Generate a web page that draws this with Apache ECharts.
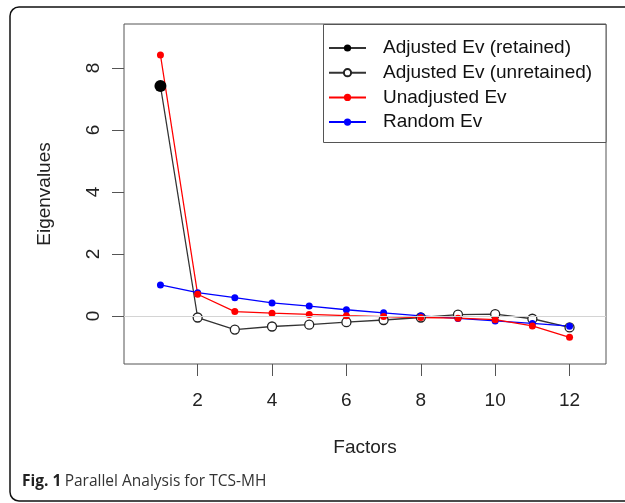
<!DOCTYPE html>
<html>
<head>
<meta charset="utf-8">
<script src="https://cdn.jsdelivr.net/npm/echarts@6/dist/echarts.min.js"></script>
<style>
  html, body { margin: 0; padding: 0; background: #fff; }
  #chart { width: 625px; height: 503px; }
</style>
</head>
<body>
<div id="chart"></div>
<script>
// factors on the x axis
const factors = [1, 2, 3, 4, 5, 6, 7, 8, 9, 10, 11, 12];
// eigenvalues
const adjustedEv = [7.42, -0.05, -0.44, -0.34, -0.28, -0.20, -0.13, -0.05, 0.04, 0.06, -0.09, -0.37];
const retainedCount = 1;
const unadjustedEv = [8.42, 0.70, 0.14, 0.09, 0.05, 0.01, -0.02, -0.05, -0.07, -0.12, -0.32, -0.69];
const randomEv = [1.00, 0.75, 0.59, 0.42, 0.32, 0.20, 0.10, 0.00, -0.08, -0.16, -0.24, -0.33];
const xTicks = [2, 4, 6, 8, 10, 12];
const yTicks = [0, 2, 4, 6, 8];
const legendNames = ['Adjusted Ev (retained)', 'Adjusted Ev (unretained)', 'Unadjusted Ev', 'Random Ev'];

const chart = echarts.init(document.getElementById('chart'), null, { renderer: 'canvas' });

const pairs = (ys) => factors.map((f, i) => [f, ys[i]]);
const retainedData = pairs(adjustedEv).slice(0, retainedCount);
const unretainedData = pairs(adjustedEv).map((p, i) =>
    i < retainedCount ? { value: p, symbol: 'none' } : p);

const axisFont = 'Liberation Sans, Arial, sans-serif';
const xMin = 0.02, xMax = 12.98;
const yMin = -1.55, yMax = 9.42;
const plotBox = { left: 124, top: 24, width: 482, height: 340 };

const option = {
    backgroundColor: '#fff',
    animation: false,
    grid: [
        Object.assign({ show: true, borderColor: '#555', borderWidth: 1, backgroundColor: 'transparent' }, plotBox),
        // same box again, only used to carry the y tick marks
        Object.assign({ show: false }, plotBox)
    ],
    xAxis: [
        {
            type: 'value', min: xMin, max: xMax, gridIndex: 0,
            name: 'Factors', nameLocation: 'middle', nameGap: 74,
            nameTextStyle: { fontFamily: axisFont, fontSize: 19, color: '#222' },
            axisLine: { show: false, onZero: false },
            splitLine: { show: false },
            axisTick: { show: true, length: 12, customValues: xTicks, lineStyle: { color: '#555', width: 1 } },
            axisLabel: { customValues: xTicks, margin: 27, fontFamily: axisFont, fontSize: 19, color: '#222' }
        },
        {
            type: 'value', min: xMin, max: xMax, gridIndex: 1, show: false
        }
    ],
    yAxis: [
        {
            // rotated tick labels (R style) + title
            type: 'value', min: yMin, max: yMax, gridIndex: 0,
            name: 'Eigenvalues', nameLocation: 'middle', nameGap: 70, nameRotate: 90,
            nameTextStyle: { fontFamily: axisFont, fontSize: 19, color: '#222' },
            axisLine: { show: false, onZero: false },
            splitLine: { show: false },
            axisTick: { show: false },
            axisLabel: { customValues: yTicks, rotate: 90, margin: 21, fontFamily: axisFont, fontSize: 19, color: '#222' }
        },
        {
            // tick marks only, labels kept invisible
            type: 'value', min: yMin, max: yMax, gridIndex: 1,
            axisLine: { show: false, onZero: false },
            splitLine: { show: false },
            axisTick: { show: true, length: 12, customValues: yTicks, lineStyle: { color: '#555', width: 1 } },
            axisLabel: { customValues: yTicks, margin: 21, fontSize: 19, color: 'rgba(0,0,0,0)' }
        }
    ],
    legend: {
        data: legendNames,
        orient: 'vertical',
        left: 328, top: 38,
        padding: 0,
        itemWidth: 37, itemHeight: 9, itemGap: 4.7,
        textStyle: { fontFamily: axisFont, fontSize: 19, lineHeight: 20, color: '#111', padding: [0, 0, 0, 12] }
    },
    graphic: [
        {
            type: 'rect', silent: true, z: 100,
            shape: { x: 10, y: 7, width: 640, height: 494, r: 9 },
            style: { fill: 'none', stroke: '#111', lineWidth: 1.5 }
        },
        {
            type: 'rect', silent: true, z: 1,
            shape: { x: 323.5, y: 24.5, width: 282.5, height: 118 },
            style: { fill: '#fff', stroke: '#555', lineWidth: 1 }
        },
        {
            type: 'text', left: 22, top: 474, z: 100,
            style: {
                text: '{b|Fig. 1} {r|Parallel Analysis for TCS-MH}',
                rich: {
                    b: { fontFamily: 'Open Sans', fontWeight: 'bold', fontSize: 15.5, fill: '#222' },
                    r: { fontFamily: 'Open Sans', fontSize: 15.5, fill: '#333' }
                }
            }
        }
    ],
    series: [
        {
            name: 'Adjusted Ev (unretained)', type: 'line', data: unretainedData,
            symbol: 'circle', symbolSize: 9,
            lineStyle: { color: '#333', width: 1.3 },
            itemStyle: { color: '#fff', borderColor: '#222', borderWidth: 1.3 },
            markLine: {
                silent: true, symbol: 'none', label: { show: false },
                lineStyle: { color: '#d4d4d4', width: 1, type: 'solid' },
                data: [{ yAxis: 0 }]
            }
        },
        {
            name: 'Adjusted Ev (retained)', type: 'line', data: retainedData,
            symbol: 'circle', symbolSize: 12,
            lineStyle: { color: '#333', width: 1.3 },
            itemStyle: { color: '#000' }
        },
        {
            name: 'Random Ev', type: 'line', data: pairs(randomEv),
            symbol: 'circle', symbolSize: 7,
            lineStyle: { color: '#0000ff', width: 1.3 },
            itemStyle: { color: '#0000ff' }
        },
        {
            name: 'Unadjusted Ev', type: 'line', data: pairs(unadjustedEv),
            symbol: 'circle', symbolSize: 7,
            lineStyle: { color: '#ff0000', width: 1.3 },
            itemStyle: { color: '#ff0000' }
        }
    ]
};

chart.setOption(option);
</script>
</body>
</html>
